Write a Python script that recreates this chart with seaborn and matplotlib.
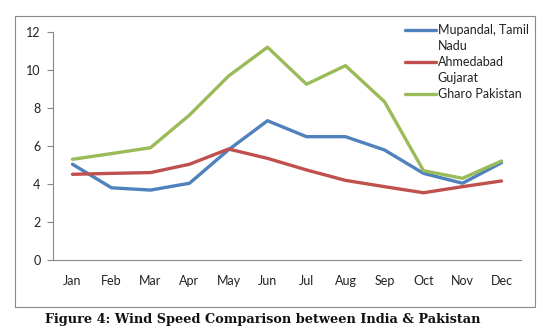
import matplotlib
matplotlib.use("Agg")
import matplotlib.pyplot as plt
import seaborn as sns
import pandas as pd
from matplotlib.patches import Rectangle
from matplotlib.lines import Line2D
from matplotlib.ticker import FixedLocator, NullFormatter

months = ["Jan", "Feb", "Mar", "Apr", "May", "Jun", "Jul", "Aug", "Sep", "Oct", "Nov", "Dec"]
mupandal = [5.04, 3.8, 3.68, 4.04, 5.8, 7.33, 6.49, 6.49, 5.79, 4.56, 4.04, 5.12]
ahmedabad = [4.51, 4.56, 4.6, 5.04, 5.84, 5.35, 4.74, 4.19, 3.86, 3.54, 3.86, 4.16]
gharo = [5.3, 5.6, 5.91, 7.63, 9.68, 11.2, 9.25, 10.23, 8.33, 4.7, 4.3, 5.21]
series_names = ["Mupandal, Tamil Nadu", "Ahmedabad Gujarat", "Gharo Pakistan"]
legend_lines = [["Mupandal, Tamil", "Nadu"], ["Ahmedabad", "Gujarat"], ["Gharo Pakistan"]]
colors = ["#4F81BD", "#C0504D", "#9BBB59"]

rows = []
for name, vals in zip(series_names, [mupandal, ahmedabad, gharo]):
    for i, (m, v) in enumerate(zip(months, vals)):
        rows.append({"month": m, "idx": i, "series": name, "value": v})
df = pd.DataFrame(rows)

sns.set_style("white")
plt.rcParams["font.family"] = ["Lato", "DejaVu Sans"]

fig = plt.figure(figsize=(5.43, 3.34), dpi=100)
ax = fig.add_axes([53 / 543, 1 - 260 / 334, 468 / 543, 228 / 334])

sns.lineplot(data=df, x="idx", y="value", hue="series", palette=colors,
             hue_order=series_names, linewidth=2.4, ax=ax, legend=False)

ax.set_xlim(-0.5, 11.5)
ax.set_ylim(0, 12)
ax.set_xticks(range(12))
ax.set_xticklabels(months, fontsize=9, color="#222222")
ax.xaxis.set_minor_locator(FixedLocator([i - 0.5 for i in range(13)]))
ax.xaxis.set_minor_formatter(NullFormatter())
ax.tick_params(axis="x", which="major", length=0, pad=11)
ax.tick_params(axis="x", which="minor", length=4, width=0.8, color="#888888", direction="out")
ax.set_yticks(range(0, 13, 2))
ax.tick_params(axis="y", labelsize=9, labelcolor="#222222", length=4, width=0.8,
               color="#888888", direction="out", left=True, pad=5)
ax.set_xlabel("")
ax.set_ylabel("")
for s in ["top", "right"]:
    ax.spines[s].set_visible(False)
for s in ["left", "bottom"]:
    ax.spines[s].set_color("#888888")
    ax.spines[s].set_linewidth(0.8)

handles, labels = [], []
for c, lines in zip(colors, legend_lines):
    for j, t in enumerate(lines):
        handles.append(Line2D([0], [0], color=c if j == 0 else "none", lw=2.4))
        labels.append(t)
leg = fig.legend(handles, labels, loc="upper left",
                 bbox_to_anchor=(405 / 543, 1 - 24 / 334), frameon=False,
                 fontsize=9, handlelength=2.5, handletextpad=0.1,
                 labelspacing=0.33, borderaxespad=0, borderpad=0)
for t in leg.get_texts():
    t.set_color("#222222")

fig.patches.append(Rectangle((15 / 543, 1 - 307 / 334), 520 / 543, 291 / 334,
                             transform=fig.transFigure, fill=False,
                             edgecolor="#888888", linewidth=0.8))

fig.text(0.4845, 1 - 319.5 / 334, "Figure 4: Wind Speed Comparison between India & Pakistan",
         ha="center", va="center", fontsize=9.3, fontweight="bold",
         family=["DejaVu Serif"], color="#111111")

fig.savefig("out.png", dpi=100)
